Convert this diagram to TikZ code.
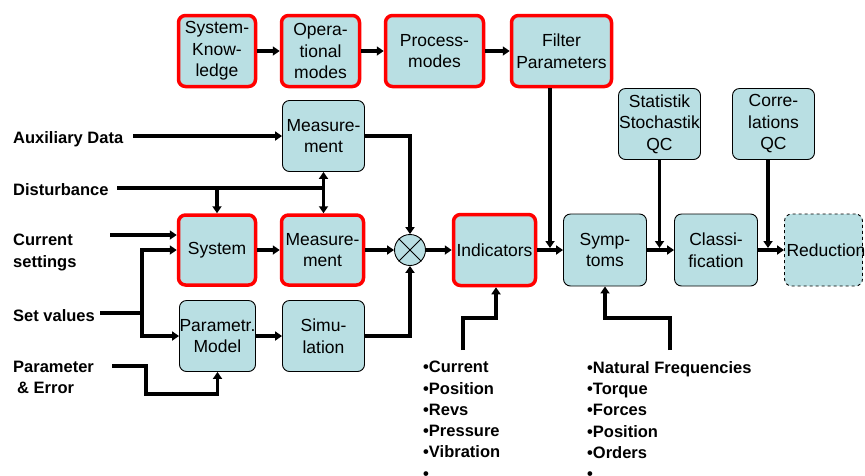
\documentclass[tikz,border=0pt]{standalone}
\usepackage{fontspec}
\setmainfont{Liberation Sans}
\usetikzlibrary{arrows.meta,calc}
\definecolor{boxfill}{RGB}{185,223,227}
\newcommand\bxf{\fontsize{17.5}{21.5}\selectfont}
\newcommand\lbf{\fontsize{16.5}{21.3}\selectfont\bfseries}
\begin{document}
\begin{tikzpicture}[x=1pt,y=-1pt,
  box/.style={draw=black,line width=0.9pt,fill=boxfill,rounded corners=7pt,font=\bxf,align=center,inner sep=0pt},
  redbox/.style={box,draw=red,line width=3.5pt},
  dbox/.style={box,dashed},
  lab/.style={font=\lbf,align=left,inner sep=0pt},
  ln/.style={line width=3.2pt},
  conn/.style={ln,-{Triangle[length=7pt,width=9pt]}}]
\useasboundingbox (0,0) rectangle (865,475);
% top row
\node[redbox,minimum width=77pt,minimum height=71pt] (sk) at (217,51) {System-\\Know-\\ledge};
\node[redbox,minimum width=78pt,minimum height=71pt] (om) at (320.5,51) {Opera-\\tional\\modes};
\node[redbox,minimum width=98pt,minimum height=71pt] (pm) at (434.5,51) {Process-\\modes};
\node[redbox,minimum width=100pt,minimum height=71pt] (fp) at (561.5,51) {Filter\\Parameters};
% middle
\node[box,minimum width=82pt,minimum height=71pt] (meas1) at (323.5,136) {Measure-\\ment};
\node[redbox,minimum width=77pt,minimum height=70pt] (sys) at (217,250) {System};
\node[redbox,minimum width=82pt,minimum height=70pt] (meas2) at (322.5,250) {Measure-\\ment};
\node[box,minimum width=76pt,minimum height=71pt] (pmod) at (217.5,336) {Parametr.\\Model};
\node[box,minimum width=82pt,minimum height=71pt] (sim) at (323.5,336) {Simu-\\lation};
\node[circle,draw=black,line width=0.9pt,fill=boxfill,minimum size=31pt,inner sep=0pt] (mix) at (410,250) {};
\draw[line width=0.9pt] (mix.north west) -- (mix.south east) (mix.north east) -- (mix.south west);
\node[redbox,minimum width=82pt,minimum height=71pt] (ind) at (494.5,250) {Indicators};
\node[box,minimum width=83pt,minimum height=72pt] (sym) at (605,250) {Symp-\\toms};
\node[box,minimum width=83pt,minimum height=72pt] (cls) at (716,250) {Classi-\\fication};
\node[dbox,minimum width=78pt,minimum height=72pt] (red) at (823.5,250) {};
\node[font=\bxf,inner sep=0pt] (redt) at (826,250) {Reduction};
\node[box,minimum width=82pt,minimum height=71pt] (stat) at (659.5,124) {Statistik\\Stochastik\\QC};
\node[box,minimum width=82pt,minimum height=71pt] (corr) at (773.5,124) {Corre-\\lations\\QC};
% left labels
\node[lab,anchor=base west] (laux) at (13,143) {Auxiliary Data};
\node[lab,anchor=base west] (ldis) at (13,195) {Disturbance};
\node[lab,anchor=north west] (lcur) at (13,234) {Current\\settings};
\node[lab,anchor=base west] (lset) at (13,321) {Set values};
\node[lab,anchor=north west] (lpar) at (13,361) {Parameter\\\hspace*{4pt}\& Error};
% lists
\node[lab,anchor=north west] (list1) at (423,361) {\textbullet Current\\ \textbullet Position\\ \textbullet Revs\\ \textbullet Pressure\\ \textbullet Vibration\\ \textbullet};
\node[lab,anchor=north west] (list2) at (587,361) {\textbullet Natural Frequencies\\ \textbullet Torque\\ \textbullet Forces\\ \textbullet Position\\ \textbullet Orders\\ \textbullet};
% top row arrows
\draw[conn] (sk) -- (om);
\draw[conn] (om) -- (pm);
\draw[conn] (pm) -- (fp);
% coordinates
\coordinate (aux0) at (133,136);
\coordinate (d0) at (117,188);
\coordinate (cs0) at (110,235);
\coordinate (sv0) at (100,313);
\coordinate (sv1) at (142,313);
\coordinate (pe0) at (112,366);
\coordinate (pe1) at (146,394);
\coordinate (fj) at (550,248);
\coordinate (sj) at (659.5,248);
\coordinate (cj) at (768,248);
\coordinate (ib0) at (463,350);
\coordinate (ib1) at (496,318);
\coordinate (sb0) at (670,350);
\coordinate (sb1) at (605,318);
% left connectors
\draw[conn] (aux0) -- (meas1.west);
\draw[ln] (d0) -- (d0 -| meas1);
\draw[conn] (d0 -| sys) -- (sys.north);
\draw[conn] (d0 -| meas1) -- (meas1.south);
\draw[conn] (d0 -| meas1) -- (meas1 |- meas2.north);
\draw[conn] (cs0) -- (cs0 -| sys.west);
\draw[ln] (sv0) -- (sv1);
\draw[conn] (sv1) |- (sys.west);
\draw[conn] (sv1) |- (pmod.west);
\draw[conn] (pe0) -| (pe1) -| (pmod.south);
\draw[conn] (sys) -- (meas2);
\draw[conn] (pmod) -- (sim);
\draw[conn] (meas1.east) -| (mix.north);
\draw[conn] (sim.east) -| (mix.south);
\draw[conn] (meas2) -- (mix);
\draw[conn] (mix) -- (ind);
\draw[conn] (ind) -- (sym);
\draw[conn] (sym) -- (cls);
\draw[conn] (cls) -- (red);
\draw[conn] (fj |- fp.south) -- (fj);
\draw[conn] (stat.south) -- (sj);
\draw[conn] (cj |- corr.south) -- (cj);
\draw[conn] (ib0) |- (ib1) -- (ib1 |- ind.south);
\draw[conn] (sb0) |- (sb1) -- (sym.south);
\end{tikzpicture}
\end{document}
